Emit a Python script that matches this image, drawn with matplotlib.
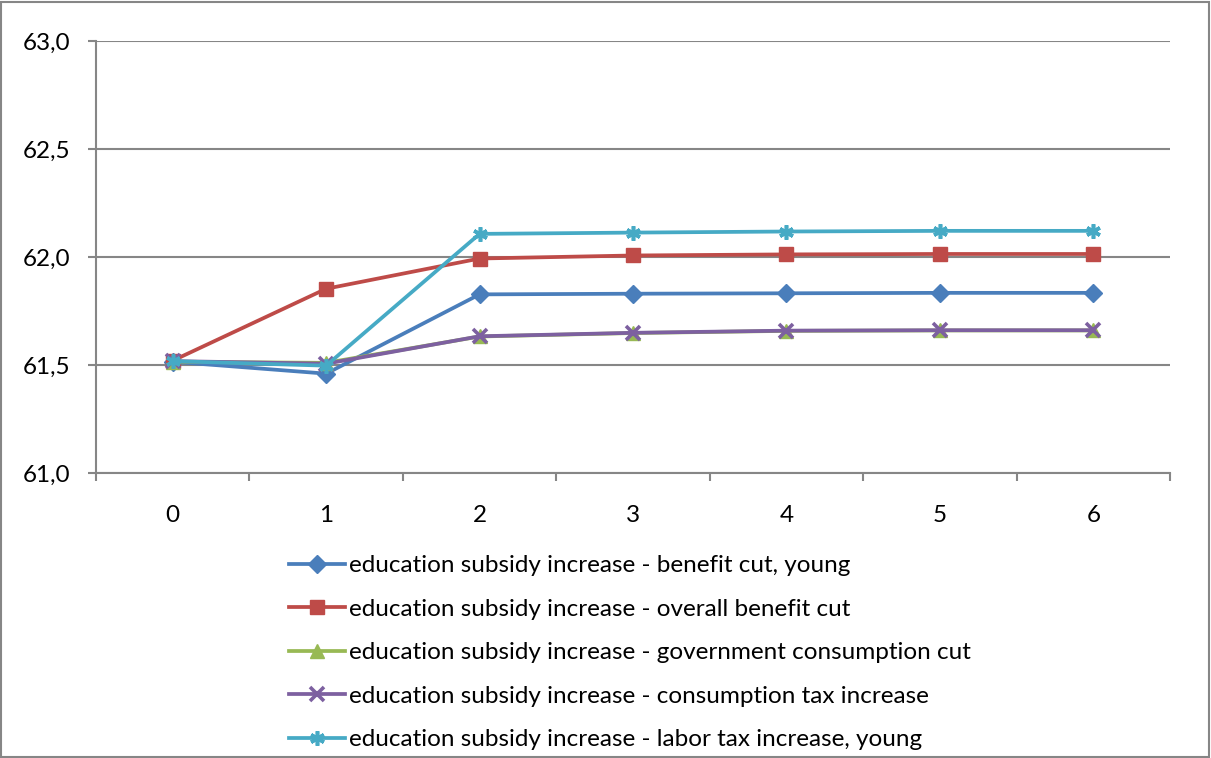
import matplotlib
matplotlib.use("Agg")
import matplotlib.pyplot as plt
from matplotlib.patches import Rectangle
from matplotlib.ticker import FuncFormatter, FixedLocator

plt.rcParams["font.family"] = ["Lato", "DejaVu Sans"]

periods = [0, 1, 2, 3, 4, 5, 6]
benefit_cut_young = [61.515, 61.460, 61.827, 61.830, 61.832, 61.834, 61.834]
overall_benefit_cut = [61.520, 61.853, 61.993, 62.007, 62.012, 62.014, 62.014]
gov_consumption_cut = [61.515, 61.510, 61.632, 61.648, 61.658, 61.660, 61.660]
consumption_tax = [61.518, 61.506, 61.633, 61.649, 61.659, 61.661, 61.661]
labor_tax_young = [61.518, 61.497, 62.107, 62.113, 62.118, 62.121, 62.121]

labels = [
    "education subsidy increase - benefit cut, young",
    "education subsidy increase - overall benefit cut",
    "education subsidy increase - government consumption cut",
    "education subsidy increase - consumption tax increase",
    "education subsidy increase - labor tax increase, young",
]
series = [benefit_cut_young, overall_benefit_cut, gov_consumption_cut,
          consumption_tax, labor_tax_young]
colors = ["#4A7EBB", "#BE4B48", "#98B954", "#7D60A0", "#46AAC5"]
markers = ["D", "s", "^", "x", (6, 2, 0)]
msizes = [9.5, 10.5, 10, 9.5, 10.5]

fig = plt.figure(figsize=(12.11, 7.58), dpi=100)
ax = fig.add_axes([96 / 1211, 1 - 473 / 758, (1170 - 96) / 1211, (473 - 41) / 758])

for vals, lab, c, m, ms in zip(series, labels, colors, markers, msizes):
    thick = m == "x" or isinstance(m, tuple)
    ax.plot(periods, vals, color=c, lw=2.7, marker=m, ms=ms,
            markeredgewidth=2.6 if thick else 1, markeredgecolor=c,
            label=lab, zorder=3)

ax.set_xlim(-0.5, 6.5)
ax.set_ylim(61.0, 63.0)
ax.yaxis.set_major_locator(FixedLocator([61.0, 61.5, 62.0, 62.5, 63.0]))
ax.yaxis.set_major_formatter(FuncFormatter(lambda v, p: f"{v:.1f}".replace(".", ",")))
ax.set_xticks(periods)
ax.set_xticks([p - 0.5 for p in periods] + [6.5], minor=True)
ax.tick_params(axis="x", which="major", length=0, pad=23, labelsize=17.5)
ax.tick_params(axis="x", which="minor", length=6, width=1.5, color="#868686", direction="out")
ax.tick_params(axis="y", length=6, width=1.5, color="#868686", pad=12.5, labelsize=17.5)
ax.grid(axis="y", color="#868686", lw=1.5, zorder=0)
ax.spines[["top", "right"]].set_visible(False)
ax.spines[["left", "bottom"]].set_color("#868686")
ax.spines[["left", "bottom"]].set_linewidth(1.5)

leg = fig.legend(loc="upper left", bbox_to_anchor=(289 / 1211, 1 - 555 / 758),
                 frameon=False, fontsize=17.5, handlelength=2.3, handletextpad=0.15,
                 labelspacing=0.93, borderaxespad=0, borderpad=0)

fig.patches.append(Rectangle((0.001, 0.001), 0.997, 0.996, transform=fig.transFigure,
                             fill=False, edgecolor="#868686", lw=1.5))

fig.savefig("out.png", dpi=100)
